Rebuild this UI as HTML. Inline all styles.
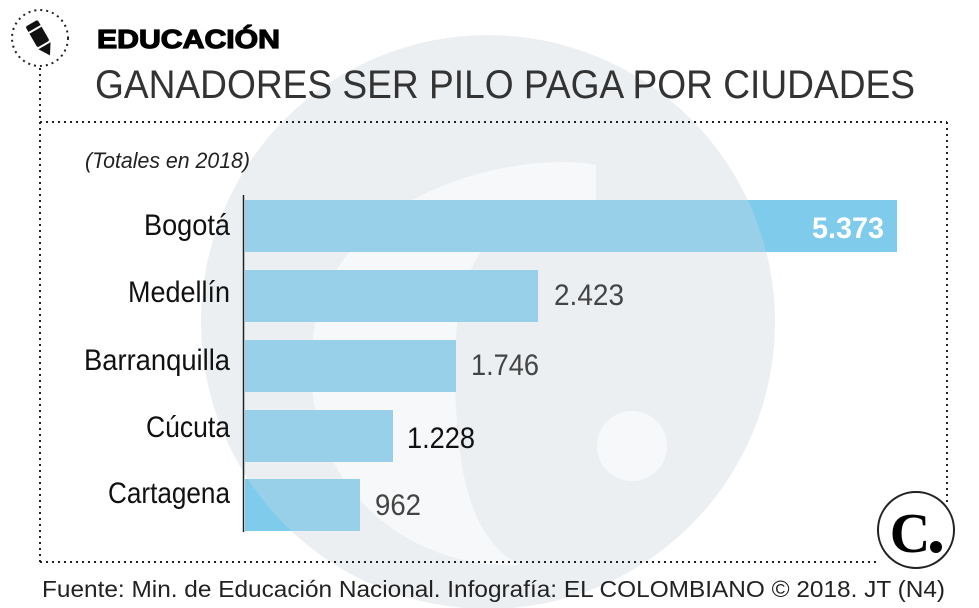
<!DOCTYPE html>
<html><head><meta charset="utf-8"><style>
html,body{margin:0;padding:0;background:#fff;width:979px;height:608px;overflow:hidden}
svg{display:block}
text{font-family:"Liberation Sans",sans-serif}
.serif{font-family:"Liberation Serif",serif}
</style></head><body>
<svg width="979" height="608" viewBox="0 0 979 608" xmlns="http://www.w3.org/2000/svg">
<!-- watermark background -->
<circle cx="488" cy="322" r="287" fill="#eceff2"/>
<path d="M596 165 C520 150 311 190 311 365 C311 500 420 570 520 565 C470 540 455 470 455 365 C455 250 500 200 596 210 Z" fill="#f7f8f9"/>
<circle cx="632" cy="446" r="35" fill="#f7f8f9"/>
<!-- bars -->
<g fill="#7ecbeb">
<rect x="245" y="200" width="652" height="52"/>
<rect x="245" y="270" width="293" height="52"/>
<rect x="245" y="340" width="211" height="52"/>
<rect x="245" y="410" width="148" height="52"/>
<rect x="245" y="479" width="115" height="52"/>
</g>
<!-- overlay tint on bars within circle -->
<clipPath id="bc"><rect x="245" y="200" width="652" height="52"/><rect x="245" y="270" width="293" height="52"/><rect x="245" y="340" width="211" height="52"/><rect x="245" y="410" width="148" height="52"/><rect x="245" y="479" width="115" height="52"/></clipPath>
<circle cx="488" cy="322" r="287" fill="#d6dde3" opacity="0.28" clip-path="url(#bc)"/>
<line x1="243.5" y1="195" x2="243.5" y2="532" stroke="#222" stroke-width="1.5"/>
<!-- dashed frame -->
<g stroke="#222" stroke-width="2" fill="none" stroke-dasharray="2 4">
<circle cx="40" cy="38" r="28"/>
<line x1="40" y1="68" x2="40" y2="562"/>
<line x1="40" y1="122" x2="947" y2="122"/>
<line x1="947" y1="122" x2="947" y2="505"/>
<line x1="40" y1="562" x2="878" y2="562"/>
</g>
<!-- pencil icon -->
<g transform="translate(40,38) rotate(-30)">
<rect x="-7" y="-17" width="14" height="24" rx="2" fill="#111"/>
<path d="M-7 9 L7 9 L0 20 Z" fill="#111"/>
<line x1="-7" y1="-10" x2="7" y2="-10" stroke="#fff" stroke-width="2"/>
</g>
<text x="97" y="48" font-size="26" font-weight="bold" fill="#000" stroke="#000" stroke-width="1.2" textLength="183" lengthAdjust="spacingAndGlyphs">EDUCACIÓN</text>
<text x="95" y="98" font-size="40" fill="#333" textLength="820" lengthAdjust="spacingAndGlyphs">GANADORES SER PILO PAGA POR CIUDADES</text>
<text x="85" y="168" font-size="22" font-style="italic" fill="#222" textLength="165" lengthAdjust="spacingAndGlyphs">(Totales en 2018)</text>
<g font-size="30" fill="#111" text-anchor="end">
<text x="230" y="235" textLength="86" lengthAdjust="spacingAndGlyphs">Bogotá</text>
<text x="230" y="302" textLength="102" lengthAdjust="spacingAndGlyphs">Medellín</text>
<text x="230" y="370" textLength="146" lengthAdjust="spacingAndGlyphs">Barranquilla</text>
<text x="230" y="437" textLength="84" lengthAdjust="spacingAndGlyphs">Cúcuta</text>
<text x="230" y="503" textLength="122" lengthAdjust="spacingAndGlyphs">Cartagena</text>
</g>
<text x="884" y="238" font-size="30" font-weight="bold" fill="#fff" text-anchor="end" textLength="72" lengthAdjust="spacingAndGlyphs">5.373</text>
<g font-size="30" fill="#444">
<text x="554" y="305" textLength="70" lengthAdjust="spacingAndGlyphs">2.423</text>
<text x="471" y="375" textLength="68" lengthAdjust="spacingAndGlyphs">1.746</text>
<text x="407" y="448" textLength="68" lengthAdjust="spacingAndGlyphs" fill="#111">1.228</text>
<text x="375" y="515" textLength="46" lengthAdjust="spacingAndGlyphs">962</text>
</g>
<!-- logo -->
<circle cx="916" cy="530" r="38" fill="#fff" stroke="#222" stroke-width="2"/>
<text class="serif" x="910" y="552" font-size="56" font-weight="bold" fill="#000" text-anchor="middle">C</text>
<circle cx="936" cy="547" r="6" fill="#000"/>
<text x="42" y="597" font-size="23" fill="#222" textLength="903" lengthAdjust="spacingAndGlyphs">Fuente: Min. de Educación Nacional. Infografía: EL COLOMBIANO © 2018. JT (N4)</text>
</svg>
</body></html>
